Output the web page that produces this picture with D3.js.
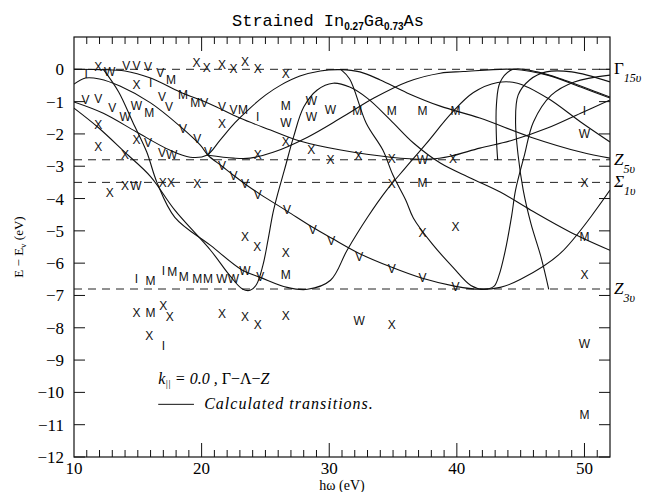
<!DOCTYPE html>
<html>
<head>
<meta charset="utf-8">
<script src="https://cdn.jsdelivr.net/npm/d3@7"></script>
<style>
body { margin: 0; background: #fff; }
</style>
</head>
<body>
<script>
var w = 656, h = 492;
var margin = {top: 37, right: 46, bottom: 35, left: 74};

// axis values
var xTickLabels = [10, 20, 30, 40, 50];
var yTickLabels = [0, -1, -2, -3, -4, -5, -6, -7, -8, -9, -10, -11, -12];
var levelNames = ["Γ", "Z", "Σ", "Z"];
var levelSubs = ["15υ", "5υ", "1υ", "3υ"];
var levelEnergies = [0, -2.8, -3.5, -6.8];

// measured structures [hω, E]
var xMarks = [[11.9,0.07],[14.9,-0.49],[19.6,0.2],[20.4,0.04],[21.6,0.13],[22.5,0.01],[23.4,0.23],[24.4,0.01],[26.6,-0.15],
  [21.6,-1.7],[11.9,-1.72],[11.9,-2.41],[14.9,-2.19],[14.0,-2.66],[24.4,-2.66],[12.8,-3.84],[14.0,-3.62],[16.95,-3.52],[17.6,-3.52],
  [19.65,-3.56],[26.6,-2.25],[28.6,-2.5],[30.1,-2.81],[32.3,-2.69],[34.9,-2.78],[34.9,-3.56],[39.7,-2.78],[50,-3.53],
  [23.4,-5.2],[24.35,-5.51],[26.6,-5.7],[37.3,-5.08],[39.9,-4.89],[50,-6.38],[14.9,-7.53],[17.0,-7.34],[17.5,-7.68],
  [15.9,-8.24],[21.6,-7.56],[23.4,-7.68],[24.4,-7.9],[26.6,-7.65],[34.9,-7.9]];
var vMarks = [[14.1,0.1],[14.9,0.1],[15.8,0.07],[16.75,-0.1],[10.9,-0.95],[11.9,-0.92],[13.0,-1.2],[16.9,-0.86],[17.45,-1.17],
  [20.2,-1.05],[21.6,-1.17],[22.5,-1.26],[15.8,-2.29],[18.55,-1.85],[19.65,-2.16],[16.9,-2.6],[20.5,-2.56],[21.6,-3.0],
  [22.5,-3.31],[23.4,-3.56],[24.4,-3.9],[26.7,-4.36],[28.7,-4.98],[30.15,-5.32],[32.35,-5.82],[34.9,-6.19],[37.3,-6.47],
  [39.9,-6.75],[24.6,-6.44]];
var wMarks = [[12.8,-0.08],[14.0,-1.48],[14.9,-1.14],[17.65,-2.66],[14.85,-3.62],[26.6,-1.67],[28.6,-0.98],[28.6,-1.48],
  [30.1,-1.26],[37.3,-2.81],[50,-2.01],[21.6,-6.5],[22.5,-6.5],[23.4,-6.25],[32.35,-7.8],[50,-8.49]];
var mMarks = [[17.6,-0.32],[15.9,-1.36],[18.55,-0.8],[19.5,-1.04],[23.25,-1.26],[26.6,-1.14],[32.2,-1.29],[34.9,-1.29],
  [37.3,-1.29],[39.9,-1.29],[37.3,-3.53],[50,-5.2],[16.0,-6.56],[17.7,-6.28],[18.6,-6.44],[19.65,-6.5],[20.5,-6.5],
  [16.0,-7.53],[26.6,-6.38],[50,-10.7]];
var iMarks = [[10.95,-0.15],[16.0,-0.42],[24.4,-1.48],[50,-1.29],[14.9,-6.5],[17.0,-6.25],[17.0,-8.55]];

// calculated transitions [hω, E]
var curveA = [[10,0],[12.0,-0.01],[14.0,-0.05],[16.0,-0.27],[18.3,-0.70],[20.7,-1.08],[23.0,-1.51],[25.4,-1.88],[27.7,-2.22],
  [30.9,-2.5],[34.8,-2.72],[37.9,-2.78],[39.5,-2.69],[41.8,-2.44],[44.4,-2.19],[47.1,-1.82],[49.7,-1.36],[52,-0.95]];
var curveB = [[10,-1.01],[12.3,-1.36],[14.9,-1.94],[17.5,-2.5],[19.1,-2.72],[20.4,-2.66],[21.45,-2.19],[22.6,-1.66],[23.8,-1.2],
  [25.0,-0.8],[26.2,-0.49],[27.7,-0.21],[29.3,-0.05],[30.9,-0.01],[32.4,-0.08],[34.0,-0.33],[36.1,-0.73],[38.7,-1.14],
  [41.8,-1.51],[45.8,-2.1],[49.7,-2.56],[52,-2.75]];
var curveC = [[10,-0.46],[10.9,-0.27],[12.0,-0.3],[13.6,-0.52],[16.0,-1.04],[18.3,-1.76],[19.9,-2.35],[20.5,-2.66],[21.6,-3.0],
  [22.6,-3.31],[23.65,-3.62],[24.6,-3.87],[26.7,-4.39],[28.7,-4.89],[30.2,-5.23],[32.35,-5.7],[34.9,-6.13],[37.3,-6.47],
  [39.9,-6.72],[41.8,-6.81],[43.4,-6.75],[45.0,-6.5],[48.1,-5.7],[52,-3.74]];
var curveD = [[10,-1.2],[11.9,-1.8],[14.0,-2.57],[16.0,-3.32],[17.9,-4.36],[20.7,-5.6],[22.2,-6.38],[23.2,-6.8],[23.8,-6.84],
  [24.3,-6.66],[24.8,-6.07],[25.2,-5.29],[25.6,-4.43],[26.0,-3.8],[26.5,-3.1],[27.2,-2.1],[28.0,-1.17],[29.06,-0.64],
  [30.3,-0.43],[31.6,-0.55],[33.0,-0.9],[34.8,-1.57],[36.6,-2.28],[38.7,-2.9],[41.1,-3.37],[43.4,-3.8],[45.8,-4.36],
  [48.9,-5.04],[52,-5.6]];
var curveE = [[30.9,0],[31.6,-0.3],[32.9,-1.67],[34.2,-2.5],[35.0,-3.28],[36.0,-4.05],[36.6,-4.61],[38.1,-5.42],[39.7,-6.13],
  [41.1,-6.69],[42.1,-6.81],[42.9,-6.72],[43.3,-6.38],[43.8,-5.6],[44.3,-4.52],[44.6,-3.74],[45.3,-2.65],[46.0,-1.63],
  [47.4,-0.8],[49.2,-0.39],[52,-0.18]];
var curveF = [[47.2,-6.81],[46.6,-5.82],[45.8,-4.77],[45.2,-3.74],[44.8,-2.66],[44.6,-1.63],[44.8,-0.8],[45.7,-0.33],
  [47.0,-0.08],[49.0,-0.08],[52,-0.39]];
var curveG = [[43.2,-2.81],[43.1,-2.12],[43.1,-1.1],[43.4,-0.39],[44.4,0],[46.3,-0.08],[48.4,-0.33],[51.0,-0.71],[52,-0.86]];
var curveH = [[20.5,-2.66],[22.5,-2.75],[23.8,-2.75],[25.6,-2.57],[28.3,-2.1],[30.9,-1.51],[33.5,-0.89],[36.1,-0.39],
  [38.7,-0.12],[40.5,-0.07],[44.4,0],[47.1,-0.18],[49.7,-0.55],[52,-0.89]];
var curveK = [[12.3,0],[13.5,-0.7],[14.6,-1.63],[15.7,-2.56],[16.5,-3.5],[17.9,-4.58],[20.7,-5.45],[23.2,-6.22],[24.6,-6.44],
  [26.7,-6.75],[28.3,-6.81],[30.1,-6.53],[31.4,-5.6],[33.0,-4.58],[34.5,-3.74],[35.95,-3.06],[37.6,-2.3],[39.6,-1.35],
  [41.3,-0.72],[43.2,-0.41],[44.75,-0.43],[47.1,-0.89],[49.7,-1.63],[52,-2.25]];
var curves = [curveA, curveB, curveC, curveD, curveE, curveF, curveG, curveH, curveK];

var svg = d3.select("body").append("svg")
    .attr("width", w)
    .attr("height", h)
    .style("background-color", "white");

var x = d3.scaleLinear().domain([10, 52]).range([margin.left, w - margin.right]);
var y = d3.scaleLinear().domain([-12, 1]).range([h - margin.bottom, margin.top]);

var serif = "'Liberation Serif', 'DejaVu Serif', serif";
var sans = "'Liberation Sans', 'DejaVu Sans', sans-serif";

svg.append("clipPath").attr("id", "plot")
  .append("rect")
    .attr("x", x(10)).attr("y", y(1))
    .attr("width", x(52) - x(10)).attr("height", y(-12) - y(1));

// dashed critical point levels
svg.append("g").selectAll("line").data(levelEnergies).join("line")
    .attr("x1", x(10)).attr("x2", x(52))
    .attr("y1", d => y(d)).attr("y2", d => y(d))
    .attr("stroke", "#222")
    .attr("stroke-width", 1)
    .attr("stroke-dasharray", "8,6");

// calculated transitions
var line = d3.line().x(d => x(d[0])).y(d => y(d[1])).curve(d3.curveCatmullRom.alpha(0.5));
svg.append("g").attr("clip-path", "url(#plot)")
  .selectAll("path").data(curves).join("path")
    .attr("d", line)
    .attr("fill", "none")
    .attr("stroke", "#111")
    .attr("stroke-width", 1.1);

// measured points drawn as letters
var markSets = [["X", xMarks], ["V", vMarks], ["W", wMarks], ["M", mMarks], ["I", iMarks]];
markSets.forEach(function(s) {
  svg.append("g").selectAll("text").data(s[1]).join("text")
      .attr("x", d => x(d[0]))
      .attr("y", d => y(d[1]))
      .attr("text-anchor", "middle")
      .attr("dominant-baseline", "central")
      .style("font-family", sans)
      .style("font-size", "12px")
      .attr("fill", "#111")
      .text(s[0]);
});

// frame
svg.append("rect")
    .attr("x", x(10)).attr("y", y(1))
    .attr("width", x(52) - x(10)).attr("height", y(-12) - y(1))
    .attr("fill", "none").attr("stroke", "#111").attr("stroke-width", 1.2);

// x ticks (minor every 1 eV, major every 10)
var xMinor = d3.range(11, 52);
svg.append("g").selectAll("line").data(xMinor).join("line")
    .attr("x1", d => x(d)).attr("x2", d => x(d))
    .attr("y1", y(-12)).attr("y2", d => y(-12) - (d % 10 == 0 ? 14 : 7))
    .attr("stroke", "#111");
svg.append("g").selectAll("line").data(xMinor).join("line")
    .attr("x1", d => x(d)).attr("x2", d => x(d))
    .attr("y1", y(1)).attr("y2", d => y(1) + (d % 10 == 0 ? 14 : 7))
    .attr("stroke", "#111");

// y ticks both sides
svg.append("g").selectAll("line").data(yTickLabels).join("line")
    .attr("x1", x(10)).attr("x2", x(10) + 11)
    .attr("y1", d => y(d)).attr("y2", d => y(d))
    .attr("stroke", "#111");
svg.append("g").selectAll("line").data(yTickLabels).join("line")
    .attr("x1", x(52)).attr("x2", x(52) - 11)
    .attr("y1", d => y(d)).attr("y2", d => y(d))
    .attr("stroke", "#111");

// tick labels
svg.append("g").selectAll("text").data(xTickLabels).join("text")
    .attr("x", d => x(d))
    .attr("y", y(-12) + 17)
    .attr("text-anchor", "middle")
    .style("font-family", serif)
    .style("font-size", "17px")
    .text(d => d);
svg.append("g").selectAll("text").data(yTickLabels).join("text")
    .attr("x", x(10) - 10)
    .attr("y", d => y(d) + 6)
    .attr("text-anchor", "end")
    .style("font-family", serif)
    .style("font-size", "17px")
    .text(d => d < 0 ? "\u2212" + Math.abs(d) : d);

// axis titles
svg.append("text")
    .attr("x", x(31)).attr("y", h - 2)
    .attr("text-anchor", "middle")
    .style("font-family", serif)
    .style("font-size", "14px")
    .text("h\u03C9 (eV)");

var yl = svg.append("text")
    .attr("transform", "translate(23," + y(-5.5) + ")rotate(-90)")
    .attr("text-anchor", "middle")
    .style("font-family", serif)
    .style("font-size", "13px");
yl.append("tspan").text("E \u2212 E");
yl.append("tspan").attr("dy", 3).style("font-size", "9px").text("v");
yl.append("tspan").attr("dy", -3).text(" (eV)");

// title
var title = svg.append("text")
    .attr("x", w / 2).attr("y", 26)
    .attr("text-anchor", "middle")
    .style("font-family", "'Liberation Mono', 'DejaVu Sans Mono', monospace")
    .style("font-size", "17px");
title.append("tspan").text("Strained In");
title.append("tspan").attr("dy", 4).style("font-family", sans).style("font-size", "10px").style("font-weight", "bold").text("0.27");
title.append("tspan").attr("dy", -4).text("Ga");
title.append("tspan").attr("dy", 4).style("font-family", sans).style("font-size", "10px").style("font-weight", "bold").text("0.73");
title.append("tspan").attr("dy", -4).text("As");

// right-hand level labels
svg.append("g").selectAll("text").data(levelEnergies).join("text")
    .attr("x", x(52) + 4)
    .attr("y", (d, i) => y(d) + 5)
    .style("font-family", serif)
    .style("font-size", "17px")
    .each(function(d, i) {
      var t = d3.select(this);
      t.append("tspan").style("font-style", i == 0 ? "normal" : "italic").text(levelNames[i]);
      t.append("tspan").attr("dy", 8).style("font-style", "italic").style("font-size", "12px").text(levelSubs[i]);
    });

// legend
var leg = svg.append("text")
    .attr("x", x(16.6)).attr("y", y(-9.6) + 5)
    .style("font-family", serif)
    .style("font-style", "italic")
    .style("font-size", "16px");
leg.append("tspan").text("k");
leg.append("tspan").attr("dy", 3).style("font-size", "10px").text("||");
leg.append("tspan").attr("dy", -3).text(" =  0.0  ,  ");
leg.append("tspan").style("font-style", "normal").text("\u0393\u2212\u039B\u2212");
leg.append("tspan").text("Z");

svg.append("line")
    .attr("x1", x(16.6)).attr("x2", x(19.4))
    .attr("y1", y(-10.37)).attr("y2", y(-10.37))
    .attr("stroke", "#111");
svg.append("text")
    .attr("x", x(20.2)).attr("y", y(-10.37) + 5)
    .style("font-family", serif)
    .style("font-style", "italic")
    .style("font-size", "16px")
    .style("letter-spacing", "1px")
    .text("Calculated transitions.");
</script>
</body>
</html>
